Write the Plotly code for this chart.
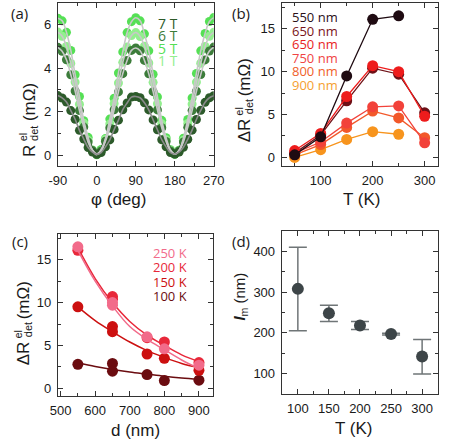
import plotly.graph_objects as go

W, H = 463, 442

# ---------------- data ----------------
# (a) angle dependence
phi = list(range(-90, 271, 10))
r_7T = [2.74, 2.63, 2.44, 2.05, 1.65, 1.14, 0.74, 0.35, 0.14, 0.04, 0.12, 0.38, 0.70, 1.18, 1.61, 2.09, 2.40, 2.67, 2.70,
        2.64, 2.41, 2.08, 1.62, 1.17, 0.71, 0.38, 0.12, 0.05, 0.14, 0.36, 0.73, 1.15, 1.64, 2.06, 2.43, 2.64, 2.73]
r_6T = [4.96, 4.78, 4.39, 3.70, 2.95, 2.05, 1.29, 0.60, 0.21, 0.04, 0.19, 0.64, 1.25, 2.09, 2.91, 3.75, 4.35, 4.82, 4.93,
        4.80, 4.36, 3.74, 2.92, 2.08, 1.26, 0.63, 0.19, 0.05, 0.20, 0.61, 1.28, 2.05, 2.94, 3.71, 4.38, 4.79, 4.97]
r_5T = [6.30, 6.18, 5.65, 4.82, 3.70, 2.70, 1.58, 0.82, 0.22, 0.02, 0.26, 0.76, 1.66, 2.62, 3.78, 4.75, 5.64, 6.14, 6.32,
        6.18, 5.58, 4.80, 3.72, 2.68, 1.60, 0.80, 0.25, 0.04, 0.22, 0.78, 1.64, 2.63, 3.76, 4.80, 5.60, 6.15, 6.33]
r_1T = [5.66, 5.47, 5.00, 4.22, 3.36, 2.34, 1.47, 0.68, 0.24, 0.06, 0.20, 0.72, 1.43, 2.38, 3.32, 4.27, 4.97, 5.50, 5.64,
        5.46, 5.01, 4.24, 3.35, 2.37, 1.44, 0.71, 0.21, 0.05, 0.23, 0.69, 1.46, 2.35, 3.36, 4.23, 5.00, 5.47, 5.65]
a_labels = ["7 T", "6 T", "5 T", "1 T"]
a_ticks = [-90, 0, 90, 180, 270]
a_ticktext = ["-90", "0", "90", "180", "270"]

# (b) temperature dependence
T_b = [50, 100, 150, 200, 250, 300]
b_550 = [0.3, 2.4, 9.5, 16.1, 16.5, None]
b_650a = [0.5, 2.6, 6.6, 10.4, 9.7, 5.2]
b_650b = [0.8, 2.8, 7.1, 10.7, 10.0, 4.8]
b_750 = [0.5, 1.8, 4.0, 5.9, 6.0, 1.7]
b_800 = [0.3, 1.5, 3.5, 5.4, 4.6, 2.3]
b_900 = [0.0, 0.9, 2.1, 3.0, 2.7, None]
b_labels = ["550 nm", "650 nm", "650 nm", "750 nm", "800 nm", "900 nm"]

# (c) distance dependence
d_c = [550, 650, 650, 750, 800, 900]
c_100 = [2.8, 2.9, 2.0, 1.6, 0.9, 0.95]
c_150 = [9.5, 7.2, 6.6, 4.0, 3.5, 2.1]
c_200 = [16.1, 10.7, 10.4, 5.9, 5.4, 3.0]
c_250 = [16.5, 10.0, 9.7, 6.0, 4.6, 2.7]
d_fit = [550, 600, 650, 700, 750, 800, 850, 900]
fit_100 = [2.95, 2.55, 2.2, 1.9, 1.65, 1.4, 1.2, 1.05]
fit_150 = [9.5, 7.9, 6.6, 5.4, 4.4, 3.6, 2.9, 2.4]
fit_200 = [16.4, 12.8, 10.0, 7.8, 6.2, 5.0, 3.9, 3.1]
fit_250 = [16.1, 12.5, 9.6, 7.2, 5.7, 4.5, 3.3, 2.3]
c_labels = ["250 K", "200 K", "150 K", "100 K"]

# (d) magnon diffusion length
T_d = [100, 150, 200, 250, 300]
lm = [308, 248, 218, 197, 142]
lm_up = [102, 20, 10, 2, 42]
lm_dn = [103, 20, 10, 2, 43]

# ---------------- helpers ----------------
def X(px):
    return px / W

def Y(py):
    return 1 - py / H

TICKFONT = dict(family="Liberation Sans, Arial", size=13, color="#1a1a1a")
TITLEFONT = "Liberation Sans, Arial"
LEGFONT = "Open Sans, DejaVu Sans"

fig = go.Figure()

def axis(px0, px1, rng, dtick, minor, tick0=None, vertical=False):
    if vertical:
        dom = [Y(px1), Y(px0)]
    else:
        dom = [X(px0), X(px1)]
    d = dict(domain=dom, range=rng, showgrid=False, zeroline=False,
             showline=True, linecolor="#333333", linewidth=1, mirror="allticks",
             ticks="inside", ticklen=5, tickwidth=1, tickcolor="#333333",
             tickfont=TICKFONT, dtick=dtick,
             minor=dict(dtick=minor, ticks="inside", ticklen=3, tickcolor="#333333", showgrid=False))
    if tick0 is not None:
        d["tick0"] = tick0
    return d

layout = dict(width=W, height=H, margin=dict(l=0, r=0, t=0, b=0),
              paper_bgcolor="white", plot_bgcolor="white", showlegend=False)

# panel boxes (px)
A = (51, 214, 3, 166)
B = (285, 448, 3, 166)
C = (51, 213, 234, 396)
D = (285, 448, 231, 394)

layout["xaxis"] = axis(A[0], A[1], [-90, 270], 90, 45, tick0=0)
layout["xaxis"]["tickvals"] = a_ticks
layout["xaxis"]["ticktext"] = a_ticktext
layout["yaxis"] = axis(A[2], A[3], [-0.5, 7.0], 2, 1, tick0=0, vertical=True)
layout["xaxis2"] = axis(B[0], B[1], [25, 325], 100, 50, tick0=0)
layout["yaxis2"] = axis(B[2], B[3], [-1, 18], 5, 2.5, tick0=0, vertical=True)
layout["xaxis3"] = axis(C[0], C[1], [492, 940], 100, 50, tick0=0)
layout["yaxis3"] = axis(C[2], C[3], [-0.9, 18], 5, 2.5, tick0=0, vertical=True)
layout["xaxis4"] = axis(D[0], D[1], [74, 325], 50, 25, tick0=0)
layout["yaxis4"] = axis(D[2], D[3], [50, 450], 100, 50, tick0=0, vertical=True)
for i in ["", "2", "3", "4"]:
    layout["xaxis" + i]["anchor"] = "y" + i
    layout["yaxis" + i]["anchor"] = "x" + i
    layout["xaxis" + i]["ticklabelstandoff"] = 2
    layout["yaxis" + i]["ticklabelstandoff"] = 3
fig.update_layout(**layout)

# ---------------- (a) ----------------
a_series = [(r_5T, "#55e055"), (r_1T, "#93ef8f"), (r_6T, "#3c7c3a"), (r_7T, "#2c5a2a")]
for ys, col in a_series:
    fig.add_trace(go.Scatter(x=phi, y=ys, mode="markers", xaxis="x", yaxis="y",
                             marker=dict(size=9, color=col, line=dict(width=0))))
for ys, col in a_series:
    lc = "#8a8a8a" if ys is r_7T else "#c8c8c8"
    fig.add_trace(go.Scatter(x=phi, y=ys, mode="lines", xaxis="x", yaxis="y",
                             line=dict(color=lc, width=1.6, shape="spline")))
a_cols = ["#2c5a2a", "#3c7c3a", "#55e055", "#93ef8f"]
for i, (lab, col) in enumerate(zip(a_labels, a_cols)):
    fig.add_annotation(x=X(166), y=Y(23 + i * 12.4), xref="paper", yref="paper", text=lab,
                       showarrow=False, font=dict(family=LEGFONT, size=14, color=col),
                       xanchor="center", yanchor="middle", height=12, borderpad=0)

# ---------------- (b) ----------------
b_series = [(b_900, "#f7941d"), (b_800, "#f2582a"), (b_750, "#f2423a"),
            (b_650a, "#6e1016"), (b_650b, "#ee1c1c"), (b_550, "#1f0b12")]
for ys, col in b_series:
    fig.add_trace(go.Scatter(x=T_b, y=ys, mode="lines+markers", xaxis="x2", yaxis="y2",
                             line=dict(color=col, width=1.3),
                             marker=dict(size=11, color=col, line=dict(width=0))))
b_cols = ["#2a1018", "#7a1418", "#e81e1e", "#f04444", "#f0602a", "#f5a030"]
for i, (lab, col) in enumerate(zip(b_labels, b_cols)):
    fig.add_annotation(x=X(295), y=Y(17 + i * 13.4), xref="paper", yref="paper", text=lab,
                       showarrow=False, font=dict(family=LEGFONT, size=13, color=col),
                       xanchor="left", yanchor="middle", height=13, borderpad=0)

# ---------------- (c) ----------------
c_series = [(c_100, fit_100, "#6b0c10"), (c_150, fit_150, "#cc1010"),
            (c_200, fit_200, "#e8283a"), (c_250, fit_250, "#f26b8a")]
for ys, fs, col in c_series:
    fig.add_trace(go.Scatter(x=d_fit, y=fs, mode="lines", xaxis="x3", yaxis="y3",
                             line=dict(color=col, width=1.5, shape="spline")))
    fig.add_trace(go.Scatter(x=d_c, y=ys, mode="markers", xaxis="x3", yaxis="y3",
                             marker=dict(size=11, color=col, line=dict(width=0))))
c_cols = ["#f26b8a", "#e8283a", "#cc1010", "#6b0c10"]
for i, (lab, col) in enumerate(zip(c_labels, c_cols)):
    fig.add_annotation(x=X(187), y=Y(253 + i * 14.3), xref="paper", yref="paper", text=lab,
                       showarrow=False, font=dict(family=LEGFONT, size=13, color=col),
                       xanchor="right", yanchor="middle", height=14, borderpad=0)

# ---------------- (d) ----------------
fig.add_trace(go.Scatter(x=T_d, y=lm, mode="markers", xaxis="x4", yaxis="y4",
                         marker=dict(size=12, color="#3d4548"),
                         error_y=dict(type="data", array=lm_up, arrayminus=lm_dn, symmetric=False,
                                      color="#6f7577", thickness=1.5, width=9)))

# ---------------- titles ----------------
def ann(x, y, text, size, angle=0, family=TITLEFONT, color="#1a1a1a"):
    fig.add_annotation(x=X(x), y=Y(y), xref="paper", yref="paper", text=text, showarrow=False,
                       textangle=angle, font=dict(family=family, size=size, color=color),
                       xanchor="center", yanchor="middle", borderpad=0)

# x titles
ann(114, 200, "φ (deg)", 17)
ann(368, 200, "T (K)", 17)
ann(132, 430, "d (nm)", 17)
ann(360, 428, "T (K)", 17)

# y titles (stacked super/subscripts)
ann(21, 151, "R", 17, -90)
ann(15, 137, "el", 11, -90)
ann(26, 133, "det", 11, -90)
ann(21, 102, "(mΩ)", 17, -90)

for dx, dy in [(231, 0), (0, 223)]:
    ann(15 + dx, 130 + dy, "ΔR", 17, -90)
    ann(9 + dx, 111 + dy, "el", 11, -90)
    ann(20 + dx, 107 + dy, "det", 11, -90)
    ann(15 + dx, 77 + dy, "(mΩ)", 17, -90)

ann(241, 297, "<b><i>l</i></b><sub>m</sub> (nm)", 15, -90)

# panel labels
for lab, x, y in [("(a)", 11, 13), ("(b)", 242, 13), ("(c)", 11, 241), ("(d)", 242, 241)]:
    ann(x, y, lab, 15, 0, family=LEGFONT)

fig.write_html("out.html", config={"displayModeBar": False},
               post_script="document.body.style.margin='0';document.body.style.overflow='hidden';")
